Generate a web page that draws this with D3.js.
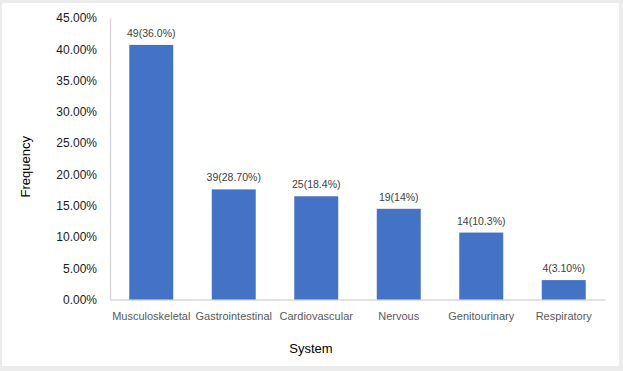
<!DOCTYPE html>
<html>
<head>
<meta charset="utf-8">
<script src="https://cdn.jsdelivr.net/npm/d3@7"></script>
<style>
  html, body { margin: 0; padding: 0; background: #ececec; }
  svg { display: block; font-family: "Liberation Sans", Arial, sans-serif; }
</style>
</head>
<body>
<div id="chart"></div>
<script>
// Chart data
const categories = ['Musculoskeletal', 'Gastrointestinal', 'Cardiovascular', 'Nervous', 'Genitourinary', 'Respiratory'];
const frequencies = [0.407, 0.176, 0.165, 0.145, 0.107, 0.031];
const barLabels = ['49(36.0%)', '39(28.70%)', '25(18.4%)', '19(14%)', '14(10.3%)', '4(3.10%)'];
const yTicks = [0, 0.05, 0.10, 0.15, 0.20, 0.25, 0.30, 0.35, 0.40, 0.45];

const width = 623;
const height = 371;
const margin = { top: 18, right: 18, bottom: 71.5, left: 110 };

const svg = d3.select('#chart').append('svg')
    .attr('width', width)
    .attr('height', height);

// Chart area frame
svg.append('rect')
    .attr('x', 2)
    .attr('y', 3)
    .attr('width', 617)
    .attr('height', 363)
    .attr('fill', '#ffffff');

const x = d3.scaleBand()
    .domain(categories)
    .range([margin.left, width - margin.right])
    .paddingInner(0.467)
    .paddingOuter(0.2335);

const y = d3.scaleLinear()
    .domain([0, 0.45])
    .range([height - margin.bottom, margin.top]);

// Y axis
const yAxis = svg.append('g')
    .attr('transform', `translate(${margin.left},0)`)
    .call(d3.axisLeft(y).tickValues(yTicks).tickFormat(d3.format('.2%')).tickSize(0).tickPadding(13));
yAxis.select('.domain').attr('stroke', '#d9d9d9').attr('stroke-width', 1.5);
yAxis.selectAll('text')
    .attr('font-size', '12px')
    .attr('fill', '#1a1a1a')
    .attr('font-family', '"Liberation Sans", Arial, sans-serif');

// X axis
const xAxis = svg.append('g')
    .attr('transform', `translate(0,${height - margin.bottom})`)
    .call(d3.axisBottom(x).tickSize(0).tickPadding(13));
xAxis.select('.domain').attr('stroke', '#d9d9d9').attr('stroke-width', 1.5);
xAxis.selectAll('text')
    .attr('font-size', '11px')
    .attr('fill', '#595959')
    .attr('font-family', '"Liberation Sans", Arial, sans-serif');

// Bars
svg.selectAll('.bar')
    .data(categories)
    .enter()
    .append('rect')
    .attr('class', 'bar')
    .attr('x', d => x(d))
    .attr('y', (d, i) => y(frequencies[i]))
    .attr('width', x.bandwidth())
    .attr('height', (d, i) => y(0) - y(frequencies[i]))
    .attr('fill', '#4472c4');

// Bar labels
svg.selectAll('.bar-label')
    .data(categories)
    .enter()
    .append('text')
    .attr('class', 'bar-label')
    .attr('x', d => x(d) + x.bandwidth() / 2)
    .attr('y', (d, i) => y(frequencies[i]) - 8)
    .attr('text-anchor', 'middle')
    .attr('font-size', '10.5px')
    .attr('fill', '#404040')
    .text((d, i) => barLabels[i]);

// Axis titles
svg.append('text')
    .attr('transform', `translate(30,${(margin.top + height - margin.bottom) / 2 + 8}) rotate(-90)`)
    .attr('text-anchor', 'middle')
    .attr('font-size', '13px')
    .attr('fill', '#000')
    .text('Frequency');

svg.append('text')
    .attr('x', 311)
    .attr('y', 353)
    .attr('text-anchor', 'middle')
    .attr('font-size', '13px')
    .attr('fill', '#000')
    .text('System');
</script>
</body>
</html>
